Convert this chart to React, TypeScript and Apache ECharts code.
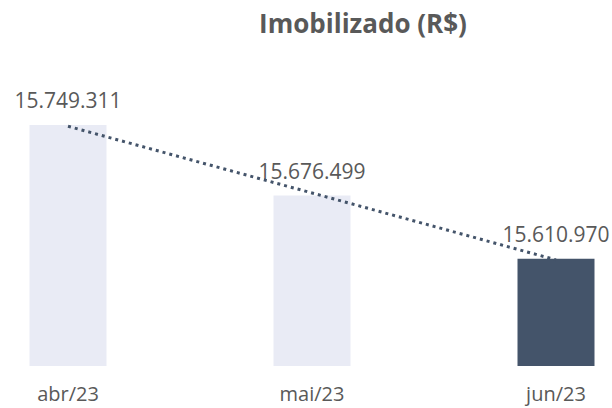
import React, { useEffect, useRef } from "react";
import * as echarts from "echarts";

const categories = ["abr/23", "mai/23", "jun/23"];
const values = [15749311, 15676499, 15610970];
const trendValues = [15748000, 15679000, 15609800];
const barColors = ["#E9EBF5", "#E9EBF5", "#44546A"];

const fmt = (v: number) => v.toString().replace(/\B(?=(\d{3})+(?!\d))/g, ".");

export default function App() {
  const ref = useRef<HTMLDivElement>(null);
  useEffect(() => {
    if (!ref.current) return;
    const chart = echarts.init(ref.current, undefined, { renderer: "svg" });
    const font = "'Open Sans', 'Noto Sans', sans-serif";
    chart.setOption({
      animation: false,
      backgroundColor: "#ffffff",
      title: {
        text: "Imobilizado (R$)",
        left: 358,
        top: 5,
        textAlign: "center",
        textStyle: { fontFamily: font, fontSize: 26, fontWeight: "bold", color: "#595959" },
      },
      grid: { left: 68, right: 56, top: 76, bottom: 42 },
      xAxis: {
        type: "category",
        data: categories,
        boundaryGap: false,
        axisLine: { show: false },
        axisTick: { show: false },
        axisLabel: { color: "#595959", fontSize: 20, fontFamily: font, margin: 17 },
      },
      yAxis: {
        type: "value",
        min: 15500000,
        max: 15800000,
        show: false,
        splitLine: { show: false },
      },
      series: [
        {
          type: "bar",
          data: values.map((v, i) => ({ value: v, itemStyle: { color: barColors[i] } })),
          barWidth: 77,
          label: {
            show: true,
            position: "top",
            distance: 14,
            color: "#595959",
            fontSize: 21,
            fontFamily: font,
            formatter: (p: any) => fmt(p.value),
          },
          z: 1,
        },
        {
          type: "line",
          data: trendValues,
          symbol: "none",
          lineStyle: { color: "#44546A", width: 3, type: [3, 4] },
          z: 3,
        },
      ],
    });
    return () => chart.dispose();
  }, []);
  return <div ref={ref} style={{ width: 612, height: 408, position: "absolute", left: 0, top: 0 }} />;
}
